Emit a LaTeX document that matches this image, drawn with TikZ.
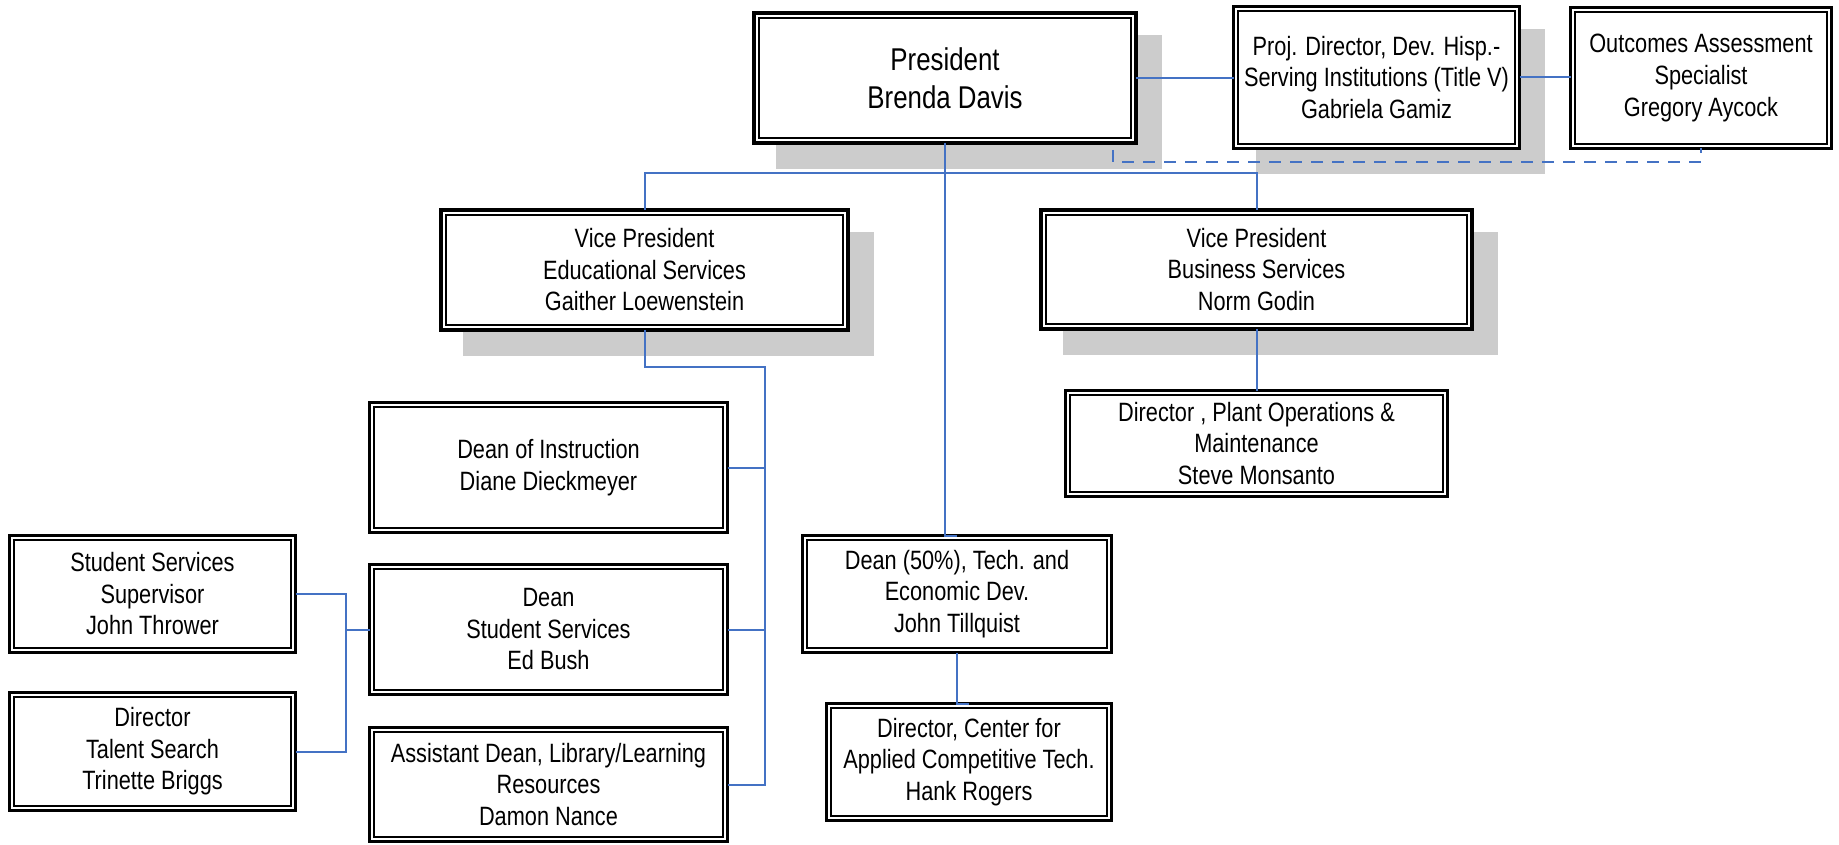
\documentclass[tikz,border=0pt]{standalone}
\usepackage{fontspec}
\setmainfont{Liberation Sans}[FakeStretch=0.82]
\usetikzlibrary{backgrounds}
\definecolor{connc}{HTML}{4472C4}
\definecolor{shadec}{HTML}{CCCCCC}
\begin{document}
\begin{tikzpicture}[x=1pt,y=-1pt,
  box/.style={draw, line width=3pt, fill=white, outer sep=0pt, inner sep=2pt, align=center,
              font=\fontsize{26.5}{31.5}\selectfont},
  heavy/.style={box, line width=4.3pt},
  innerline/.style={line width=1.5pt},
  conn/.style={draw=connc, line width=2pt},
  dashconn/.style={conn, dash pattern=on 12pt off 9pt}]
\useasboundingbox (0,0) rectangle (1839,845);

% heavy boxes
\node[heavy, minimum width=381.7pt, minimum height=129.7pt, font=\fontsize{31.5}{38}\selectfont] (pres) at (945,78) {President\\Brenda Davis};
\node[heavy, minimum width=406.7pt, minimum height=119.7pt] (vpe) at (644.5,270) {Vice President\\Educational Services\\Gaither Loewenstein};
\node[heavy, minimum width=430.7pt, minimum height=118.7pt] (vpb) at (1256.5,269.5) {Vice President\\Business Services\\Norm Godin};

% normal boxes
\node[box, minimum width=286pt, minimum height=142pt] (proj) at (1376.5,77.5) {Proj. Director, Dev. Hisp.-\\Serving Institutions (Title V)\\Gabriela Gamiz};
\node[box, minimum width=261pt, minimum height=141pt] (outc) at (1701,78) {Outcomes Assessment\\Specialist\\Gregory Aycock};
\node[box, minimum width=382pt, minimum height=106pt] (plant) at (1256.5,443.5) {Director , Plant Operations \&\\Maintenance\\Steve Monsanto};
\node[box, minimum width=358pt, minimum height=130pt] (doi) at (548.5,467.5) {Dean of Instruction\\Diane Dieckmeyer};
\node[box, minimum width=358pt, minimum height=130pt] (dss) at (548.5,629.5) {Dean\\Student Services\\Ed Bush};
\node[box, minimum width=358pt, minimum height=114pt] (ad) at (548.5,784.5) {Assistant Dean, Library/Learning\\Resources\\Damon Nance};
\node[box, minimum width=286pt, minimum height=117pt] (sss) at (152.5,594) {Student Services\\Supervisor\\John Thrower};
\node[box, minimum width=286pt, minimum height=118pt] (ts) at (152.5,751.5) {Director\\Talent Search\\Trinette Briggs};
\node[box, minimum width=309pt, minimum height=117pt] (dtech) at (957,594) {Dean (50\%), Tech. and\\Economic Dev.\\John Tillquist};
\node[box, minimum width=285pt, minimum height=117pt] (dcen) at (969,762) {Director, Center for\\Applied Competitive Tech.\\Hank Rogers};

% inner lines of the double borders
\foreach \n in {pres,vpe,vpb}
  \draw[innerline] ([xshift=4.9pt,yshift=-4.9pt]\n.north west) rectangle ([xshift=-4.9pt,yshift=4.9pt]\n.south east);
\foreach \n in {proj,outc,plant,doi,dss,ad,sss,ts,dtech,dcen}
  \draw[innerline] ([xshift=4.6pt,yshift=-4.6pt]\n.north west) rectangle ([xshift=-4.6pt,yshift=4.6pt]\n.south east);

% shadows
\begin{scope}[on background layer]
\foreach \n in {pres,vpe,vpb}
  \fill[shadec] ([xshift=21.85pt,yshift=-21.85pt]\n.north west) rectangle ([xshift=26.15pt,yshift=-26.15pt]\n.south east);
\fill[shadec] ([xshift=22.5pt,yshift=-22.5pt]proj.north west) rectangle ([xshift=25.5pt,yshift=-25.5pt]proj.south east);
\end{scope}

% helper coordinates
\coordinate (bar) at (945,173);
\coordinate (edubus) at (765,367);
\coordinate (ssbus) at (346,629.5);
\coordinate (dstart) at (1113,150);
\coordinate (dlevel) at (0,162);

% connectors
\draw[conn] (pres.east) -- (pres.east -| proj.west);
\draw[conn] (proj.east) -- (proj.east -| outc.west);
\draw[conn] (pres.south) -- (pres.south |- dtech.north) -- (dtech.north);
\draw[conn] (vpe.north) |- (bar) -| (vpb.north);
\draw[conn] (vpb.south) -- (plant.north);
\draw[conn] (vpe.south) |- (edubus) -- (edubus |- ad.east) -- (ad.east);
\draw[conn] (doi.east) -- (doi.east -| edubus);
\draw[conn] (dss.east) -- (dss.east -| edubus);
\draw[conn] (sss.east) -| (ssbus) -- (dss.west);
\draw[conn] (ts.east) -| (ssbus);
\draw[conn] (dtech.south) -- (dtech.south |- dcen.north) -- (dcen.north);
\draw[dashconn] (dstart) |- (outc.south |- dlevel) -- (outc.south);
\end{tikzpicture}
\end{document}
